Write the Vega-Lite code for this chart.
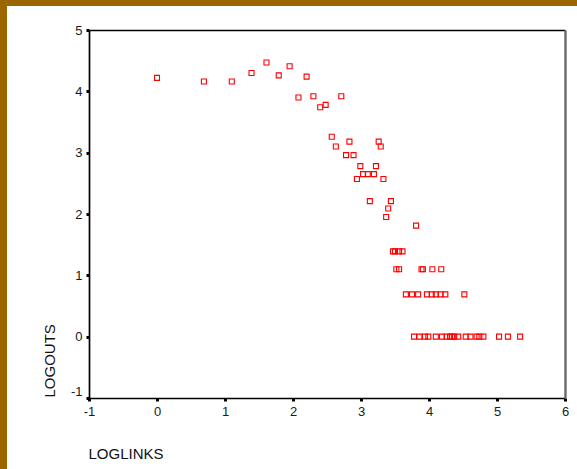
{
  "$schema": "https://vega.github.io/schema/vega-lite/v6.json",
  "width": 570,
  "height": 463,
  "autosize": {"type": "none"},
  "padding": {"left": 7, "top": 6, "right": 0, "bottom": 0},
  "background": "#996600",
  "config": {
    "view": {"fill": "white", "stroke": null},
    "font": "Liberation Sans",
    "axis": {"grid": false}
  },
  "data": {
    "values": [
      {"loglinks": 0.00, "logouts": 4.22},
      {"loglinks": 0.69, "logouts": 4.16},
      {"loglinks": 1.10, "logouts": 4.16},
      {"loglinks": 1.39, "logouts": 4.30},
      {"loglinks": 1.61, "logouts": 4.47},
      {"loglinks": 1.79, "logouts": 4.26},
      {"loglinks": 1.95, "logouts": 4.41},
      {"loglinks": 2.08, "logouts": 3.90},
      {"loglinks": 2.20, "logouts": 4.24},
      {"loglinks": 2.30, "logouts": 3.92},
      {"loglinks": 2.40, "logouts": 3.74},
      {"loglinks": 2.48, "logouts": 3.78},
      {"loglinks": 2.71, "logouts": 3.92},
      {"loglinks": 2.57, "logouts": 3.26},
      {"loglinks": 2.63, "logouts": 3.10},
      {"loglinks": 2.78, "logouts": 2.96},
      {"loglinks": 2.83, "logouts": 3.18},
      {"loglinks": 2.89, "logouts": 2.96},
      {"loglinks": 2.94, "logouts": 2.57},
      {"loglinks": 2.99, "logouts": 2.78},
      {"loglinks": 3.03, "logouts": 2.65},
      {"loglinks": 3.10, "logouts": 2.65},
      {"loglinks": 3.13, "logouts": 2.21},
      {"loglinks": 3.19, "logouts": 2.65},
      {"loglinks": 3.22, "logouts": 2.78},
      {"loglinks": 3.26, "logouts": 3.18},
      {"loglinks": 3.29, "logouts": 3.10},
      {"loglinks": 3.33, "logouts": 2.57},
      {"loglinks": 3.37, "logouts": 1.95},
      {"loglinks": 3.40, "logouts": 2.09},
      {"loglinks": 3.44, "logouts": 2.21},
      {"loglinks": 3.81, "logouts": 1.81},
      {"loglinks": 3.47, "logouts": 1.39},
      {"loglinks": 3.50, "logouts": 1.39},
      {"loglinks": 3.56, "logouts": 1.39},
      {"loglinks": 3.61, "logouts": 1.39},
      {"loglinks": 3.52, "logouts": 1.10},
      {"loglinks": 3.56, "logouts": 1.10},
      {"loglinks": 3.89, "logouts": 1.10},
      {"loglinks": 3.91, "logouts": 1.10},
      {"loglinks": 4.05, "logouts": 1.10},
      {"loglinks": 4.18, "logouts": 1.10},
      {"loglinks": 3.66, "logouts": 0.69},
      {"loglinks": 3.75, "logouts": 0.69},
      {"loglinks": 3.84, "logouts": 0.69},
      {"loglinks": 3.97, "logouts": 0.69},
      {"loglinks": 4.04, "logouts": 0.69},
      {"loglinks": 4.10, "logouts": 0.69},
      {"loglinks": 4.17, "logouts": 0.69},
      {"loglinks": 4.24, "logouts": 0.69},
      {"loglinks": 4.52, "logouts": 0.69},
      {"loglinks": 3.78, "logouts": 0},
      {"loglinks": 3.86, "logouts": 0},
      {"loglinks": 3.94, "logouts": 0},
      {"loglinks": 3.99, "logouts": 0},
      {"loglinks": 4.10, "logouts": 0},
      {"loglinks": 4.19, "logouts": 0},
      {"loglinks": 4.26, "logouts": 0},
      {"loglinks": 4.31, "logouts": 0},
      {"loglinks": 4.34, "logouts": 0},
      {"loglinks": 4.37, "logouts": 0},
      {"loglinks": 4.43, "logouts": 0},
      {"loglinks": 4.54, "logouts": 0},
      {"loglinks": 4.61, "logouts": 0},
      {"loglinks": 4.70, "logouts": 0},
      {"loglinks": 4.74, "logouts": 0},
      {"loglinks": 4.80, "logouts": 0},
      {"loglinks": 5.03, "logouts": 0},
      {"loglinks": 5.16, "logouts": 0},
      {"loglinks": 5.34, "logouts": 0}
    ]
  },
  "layer": [
    {
      "mark": {"type": "point", "shape": "square", "filled": false, "color": "#ff0000", "size": 25, "strokeWidth": 1.1, "opacity": 1},
      "encoding": {
        "x": {
          "field": "loglinks", "type": "quantitative",
          "scale": {"domain": [-1, 6], "range": [82, 558], "nice": false, "zero": false},
          "axis": {
            "orient": "bottom", "offset": -71,
            "values": [-1, 0, 1, 2, 3, 4, 5, 6],
            "labelExpr": "datum.value < 0 ? '-' + abs(datum.value) : '' + datum.value",
            "domainColor": "#000000", "domainWidth": 1.7,
            "tickColor": "#000000", "tickSize": 3, "tickWidth": 3,
            "labelFontSize": 13, "labelColor": "#1a1a1a", "labelPadding": 4,
            "labelFlush": false, "labelOverlap": false,
            "title": "LOGLINKS", "titleFontSize": 15, "titleFontWeight": "normal", "titleColor": "#111111",
            "titleX": 81, "titleY": 60, "titleAlign": "left", "titleBaseline": "alphabetic"
          }
        },
        "y": {
          "field": "logouts", "type": "quantitative",
          "scale": {"domain": [-1, 5], "range": [392, 24], "nice": false, "zero": false},
          "axis": {
            "orient": "left", "offset": -82,
            "values": [-1, 0, 1, 2, 3, 4, 5],
            "labelExpr": "datum.value < 0 ? '-' + abs(datum.value) : '' + datum.value",
            "domainColor": "#000000", "domainWidth": 1.7,
            "tickColor": "#000000", "tickSize": 3, "tickWidth": 3,
            "labelFontSize": 13, "labelColor": "#1a1a1a", "labelPadding": 4,
            "labelFlush": false, "labelOverlap": false,
            "labelBaseline": {"condition": {"test": "datum.value == -1", "value": "bottom"}, "value": "middle"},
            "title": "LOGOUTS", "titleFontSize": 15, "titleFontWeight": "normal", "titleColor": "#111111",
            "titleAngle": -90, "titleX": -35, "titleY": 391, "titleAlign": "left", "titleBaseline": "alphabetic"
          }
        }
      }
    },
    {
      "mark": {"type": "point", "opacity": 0},
      "encoding": {
        "x": {
          "field": "loglinks", "type": "quantitative",
          "scale": {"domain": [-1, 6], "range": [82, 558], "nice": false, "zero": false},
          "axis": {"orient": "top", "offset": -24, "ticks": false, "labels": false, "title": null, "domainColor": "#000000", "domainWidth": 1.3}
        },
        "y": {
          "field": "logouts", "type": "quantitative",
          "scale": {"domain": [-1, 5], "range": [392, 24], "nice": false, "zero": false},
          "axis": {"orient": "right", "offset": -12, "ticks": false, "labels": false, "title": null, "domainColor": "#6e6e6e", "domainWidth": 2.5}
        }
      }
    }
  ],
  "resolve": {"axis": {"x": "independent", "y": "independent"}}
}
